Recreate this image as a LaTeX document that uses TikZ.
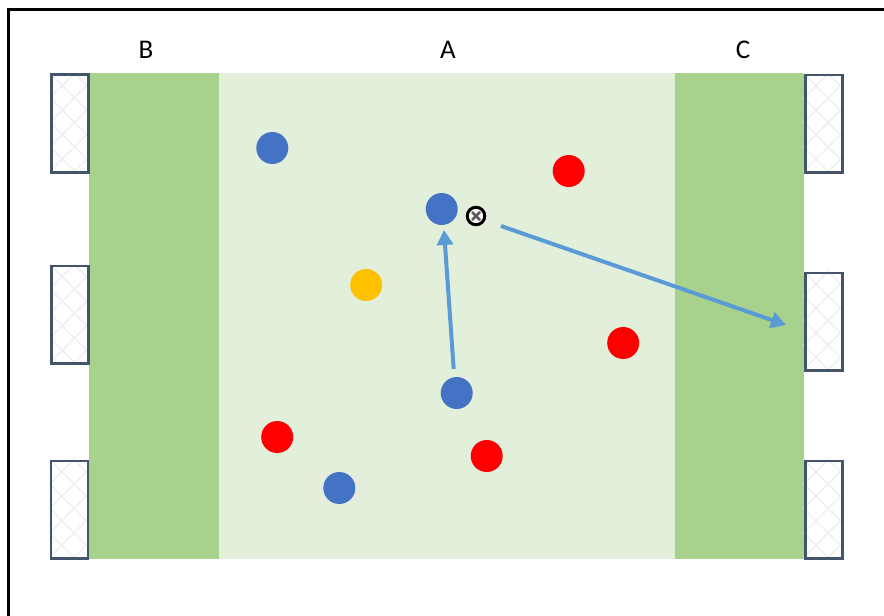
\documentclass[tikz,border=0pt]{standalone}
\usepackage{fontspec}
\setmainfont{Carlito}
\definecolor{fieldlight}{HTML}{E2EFDA}
\definecolor{fielddark}{HTML}{A9D18E}
\definecolor{goalline}{HTML}{44546A}
\definecolor{netline}{HTML}{F0F0F0}
\definecolor{blueplayer}{HTML}{4472C4}
\definecolor{redplayer}{HTML}{FF0000}
\definecolor{yellowplayer}{HTML}{FFC000}
\definecolor{arrowblue}{HTML}{5B9BD5}
\usetikzlibrary{arrows.meta}
\tikzset{
  x=1pt,y=-1pt,
  zone/.style={draw=none,minimum height=486pt,inner sep=0pt,outer sep=0pt},
  player/.style={circle,draw=none,minimum size=32pt,inner sep=0pt},
  blueguy/.style={player,fill=blueplayer},
  redguy/.style={player,fill=redplayer},
  yellowguy/.style={player,fill=yellowplayer},
  zonelabel/.style={font=\fontsize{27}{27}\selectfont,text=black,inner sep=0pt},
  pass/.style={draw=arrowblue,line width=4pt,-{Triangle[length=15pt,width=16pt]}},
  goalframe/.style={draw=goalline,line width=2.9pt},
  netlines/.style={draw=netline,line width=1.6pt},
}
\newcommand{\goalbox}[3]{% left, top, name
  \begin{scope}
    \clip (#1,#2) rectangle ++(37,97.5);
    \fill[white] (#1,#2) rectangle ++(37,97.5);
    \foreach \k in {-4,...,6}{
      \draw[netlines] ({#1+\k*24.5},#2) -- ++(98,98);
      \draw[netlines] ({#1+\k*24.5},#2) -- ++(-98,98);
    }
  \end{scope}
  \node[goalframe,minimum width=37pt,minimum height=97.5pt,inner sep=0pt,anchor=north west] (#3) at (#1,#2) {};
}
\begin{document}
\begin{tikzpicture}
\useasboundingbox (0,0) rectangle (884,616);
\fill[white] (0,0) rectangle (884,616);
\coordinate (frameA) at (8,616);
\coordinate (frameB) at (8,9);
\coordinate (frameC) at (884,9);
\draw[black,line width=3pt] (frameA) -- (frameB) -- (frameC);

\node[zone,fill=fieldlight,minimum width=470pt,anchor=north west] (zoneA) at (211,73) {};
\node[zone,fill=fielddark,minimum width=130pt,anchor=north west] (zoneB) at (88.5,73) {};
\node[zone,fill=fielddark,minimum width=129pt,anchor=north west] (zoneC) at (674.5,73) {};

\node[zonelabel] (labB) at (146,50) {B};
\node[zonelabel] (labA) at (448,50) {A};
\node[zonelabel] (labC) at (743,50) {C};

\goalbox{50}{73.2}{g1}
\goalbox{50}{264.5}{g2}
\goalbox{49.5}{459.5}{g3}
\goalbox{803.7}{73.5}{g4}
\goalbox{803.7}{271.5}{g5}
\goalbox{803.7}{459.5}{g6}

\node[blueguy] (p1) at (272.3,148) {};
\node[blueguy] (p2) at (441.7,209) {};
\node[blueguy] (p3) at (456.7,393) {};
\node[blueguy] (p4) at (339.3,488) {};
\node[redguy] (r1) at (568.7,171) {};
\node[redguy] (r2) at (623.2,343) {};
\node[redguy] (r3) at (277.2,437) {};
\node[redguy] (r4) at (486.7,456) {};
\node[yellowguy] (y1) at (366.2,285) {};

\node[circle,draw=black,fill=white,line width=3pt,minimum size=17.5pt,inner sep=0pt] (ball) at (476,216) {};
\draw[gray!70!black,line width=2.6pt] (472,212) -- (480,220) (480,212) -- (472,220);

\coordinate (a1s) at (453.7,369);
\coordinate (a1e) at (444,230);
\coordinate (a2s) at (501,226);
\coordinate (a2e) at (786,325);
\draw[pass] (a1s) -- (a1e);
\draw[pass] (a2s) -- (a2e);
\end{tikzpicture}
\end{document}
